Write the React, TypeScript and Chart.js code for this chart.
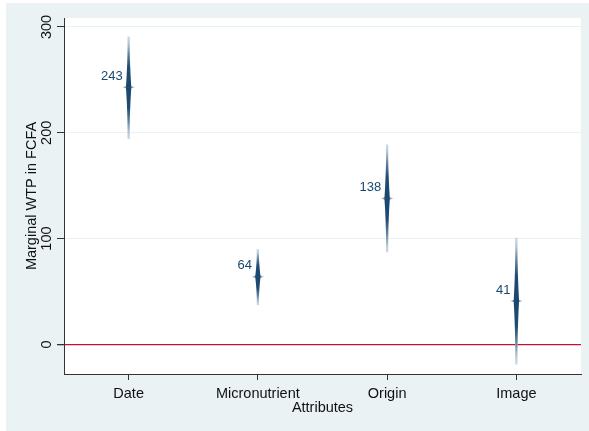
import React, { useEffect, useRef } from "react";
import { Chart, registerables } from "chart.js";

Chart.register(...registerables);

// Marginal willingness-to-pay estimates with 95% confidence bounds
const attributes = ["Date", "Micronutrient", "Origin", "Image"];
const wtpEstimate = [243, 64, 138, 41];
const ciLower = [194, 37, 87, -19];
const ciUpper = [291, 90, 189, 101];
const yTickValues = [0, 100, 200, 300];
const yMin = -28;
const yMax = 308.5;

const FONT = "'Liberation Sans', Arial, sans-serif";
const NAVY = "26,71,111";
const PANEL = "#eaf2f3";
const AXIS = "#333333";
const ZERO_LINE = "#c8102e";

// Tapered vertical spike from the centre out to one end of the interval
function drawHalfSpike(ctx: CanvasRenderingContext2D, x: number, yc: number, yEnd: number) {
  const grad = ctx.createLinearGradient(0, yc, 0, yEnd);
  grad.addColorStop(0, `rgba(${NAVY},1)`);
  grad.addColorStop(0.4, `rgba(${NAVY},0.97)`);
  grad.addColorStop(0.65, `rgba(${NAVY},0.6)`);
  grad.addColorStop(0.87, `rgba(${NAVY},0.14)`);
  grad.addColorStop(1, `rgba(${NAVY},0)`);
  const steps = 24;
  const pts: [number, number][] = [];
  for (let k = 0; k <= steps; k++) {
    const t = k / steps;
    const w = 0.95 + 1.75 * Math.pow(1 - t, 2);
    pts.push([w, yc + (yEnd - yc) * t]);
  }
  ctx.beginPath();
  ctx.moveTo(x - pts[0][0], pts[0][1]);
  for (const [w, y] of pts) ctx.lineTo(x - w, y);
  for (let k = pts.length - 1; k >= 0; k--) ctx.lineTo(x + pts[k][0], pts[k][1]);
  ctx.closePath();
  ctx.fillStyle = grad;
  ctx.fill();
}

// Short horizontal spike marking the point estimate
function drawHorizontalSpike(ctx: CanvasRenderingContext2D, x: number, yc: number) {
  for (const dir of [-1, 1]) {
    const xEnd = x + dir * 7;
    const grad = ctx.createLinearGradient(x, 0, xEnd, 0);
    grad.addColorStop(0, `rgba(${NAVY},1)`);
    grad.addColorStop(0.5, `rgba(${NAVY},0.5)`);
    grad.addColorStop(1, `rgba(${NAVY},0)`);
    ctx.beginPath();
    ctx.moveTo(x, yc - 1.8);
    ctx.lineTo(xEnd, yc);
    ctx.lineTo(x, yc + 1.8);
    ctx.closePath();
    ctx.fillStyle = grad;
    ctx.fill();
  }
}

const panelPlugin = {
  id: "panel",
  beforeDraw(chart: any) {
    const { ctx, chartArea, width, height } = chart;
    ctx.save();
    ctx.fillStyle = "#ffffff";
    ctx.fillRect(0, 0, width, height);
    ctx.fillStyle = PANEL;
    ctx.fillRect(6, 3, width - 6, height - 3);
    ctx.fillStyle = "#ffffff";
    ctx.fillRect(chartArea.left, chartArea.top, chartArea.right - chartArea.left, chartArea.bottom - chartArea.top);
    ctx.restore();
  },
};

const spikePlugin = {
  id: "spikes",
  afterDatasetsDraw(chart: any) {
    const { ctx, scales } = chart;
    const yScale = scales.y;
    const meta = chart.getDatasetMeta(0);
    ctx.save();
    meta.data.forEach((pt: any, i: number) => {
      const x = pt.x;
      const yc = pt.y;
      const yTop = yScale.getPixelForValue(ciUpper[i]);
      const yBot = yScale.getPixelForValue(ciLower[i]);
      // faint full-length interval
      ctx.strokeStyle = "rgba(205,217,228,0.95)";
      ctx.lineWidth = 2.4;
      ctx.beginPath();
      ctx.moveTo(x, yTop);
      ctx.lineTo(x, yBot);
      ctx.stroke();
      drawHalfSpike(ctx, x, yc, yTop);
      drawHalfSpike(ctx, x, yc, yBot);
      drawHorizontalSpike(ctx, x, yc);
      // value label up and to the left of the estimate
      ctx.fillStyle = `rgb(${NAVY})`;
      ctx.font = `13px ${FONT}`;
      ctx.textAlign = "right";
      ctx.textBaseline = "middle";
      ctx.fillText(String(wtpEstimate[i]), x - 6, yc - 11);
    });
    ctx.restore();
  },
  afterDraw(chart: any) {
    const { ctx, chartArea, scales } = chart;
    const yScale = scales.y;
    ctx.save();
    ctx.fillStyle = "#111111";
    ctx.font = `14.5px ${FONT}`;
    ctx.textAlign = "center";
    ctx.textBaseline = "middle";
    // rotated y tick labels
    for (const v of yTickValues) {
      const y = yScale.getPixelForValue(v);
      ctx.save();
      ctx.translate(47, y);
      ctx.rotate(-Math.PI / 2);
      ctx.fillText(String(v), 0, 0);
      ctx.restore();
    }
    // y axis title
    ctx.save();
    ctx.translate(32, (chartArea.top + chartArea.bottom) / 2);
    ctx.rotate(-Math.PI / 2);
    ctx.fillText("Marginal WTP in FCFA", 0, 0);
    ctx.restore();
    // x axis title
    ctx.fillText("Attributes", (chartArea.left + chartArea.right) / 2, 408);
    ctx.restore();
  },
};

export default function App() {
  const canvasRef = useRef<HTMLCanvasElement | null>(null);

  useEffect(() => {
    if (!canvasRef.current) return;
    const chart = new Chart(canvasRef.current, {
      type: "line",
      data: {
        labels: attributes,
        datasets: [
          {
            label: "Marginal WTP",
            data: wtpEstimate,
            showLine: false,
            pointRadius: 0,
            borderColor: `rgb(${NAVY})`,
            backgroundColor: `rgb(${NAVY})`,
          },
        ],
      },
      options: {
        animation: false,
        responsive: false,
        devicePixelRatio: 1,
        layout: { padding: { top: 18, right: 8, left: 0, bottom: 0 } },
        plugins: {
          legend: { display: false },
          tooltip: { enabled: false },
        },
        scales: {
          x: {
            type: "category",
            offset: true,
            grid: {
              display: true,
              drawOnChartArea: false,
              drawTicks: true,
              tickLength: 6,
              tickColor: AXIS,
              tickWidth: 1,
            },
            border: { display: true, color: AXIS, width: 1 },
            ticks: {
              font: { family: FONT, size: 14.5 },
              color: "#111111",
              padding: 5,
              maxRotation: 0,
              autoSkip: false,
            },
            afterFit: (s: any) => {
              s.height = 57;
            },
          },
          y: {
            type: "linear",
            min: yMin,
            max: yMax,
            afterBuildTicks: (s: any) => {
              s.ticks = yTickValues.map((v) => ({ value: v }));
            },
            grid: {
              color: (c: any) => (c.tick && c.tick.value === 0 ? ZERO_LINE : PANEL),
              lineWidth: (c: any) => (c.tick && c.tick.value === 0 ? 1.3 : 1),
              tickColor: AXIS,
              tickLength: 7,
              drawTicks: true,
            },
            border: { display: true, color: AXIS, width: 1 },
            ticks: {
              color: "rgba(0,0,0,0)",
              font: { family: FONT, size: 14 },
            },
            afterFit: (s: any) => {
              s.width = 64;
            },
          },
        },
      },
      plugins: [panelPlugin, spikePlugin],
    });
    return () => chart.destroy();
  }, []);

  return (
    <div style={{ position: "fixed", left: 0, top: 0, width: 589, height: 431 }}>
      <canvas ref={canvasRef} width={589} height={431} />
    </div>
  );
}
